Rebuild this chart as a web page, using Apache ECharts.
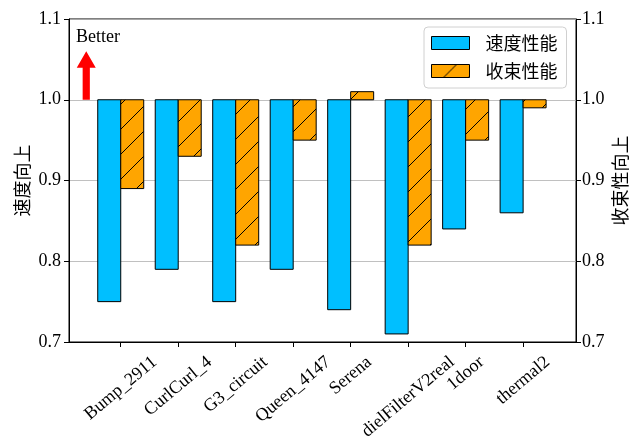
<!DOCTYPE html>
<html>
<head>
<meta charset="utf-8">
<script src="https://cdn.jsdelivr.net/npm/echarts@6/dist/echarts.min.js"></script>
<style>
  html, body { margin: 0; padding: 0; background: #fff; }
  #chart { width: 640px; height: 439px; }
</style>
</head>
<body>
<div id="chart"></div>
<script>
// Matrices and their relative performance (1.0 = baseline)
const categories = ['Bump_2911', 'CurlCurl_4', 'G3_circuit', 'Queen_4147', 'Serena', 'dielFilterV2real', '1door', 'thermal2'];
const speedPerf = [0.75, 0.79, 0.75, 0.79, 0.74, 0.71, 0.84, 0.86];
const convPerf = [0.89, 0.93, 0.82, 0.95, 1.01, 0.82, 0.95, 0.99];
const seriesNames = ['速度性能', '收束性能'];
const axisNames = ['速度向上', '收束性向上'];
const yTicks = [0.7, 0.8, 0.9, 1.0, 1.1];
const baseline = 1.0;
// "Better" hint: arrow x, arrow from/to, text x/y
const betterArrow = [-0.6, 1.0, 1.06];
const betterText = [-0.78, 1.077];

const SERIF = "'Liberation Serif', 'Times New Roman', 'DejaVu Serif', serif";
const CJK = "'Noto Sans CJK SC', 'Noto Sans CJK JP', sans-serif";
const BLUE = '#00BFFF';
const ORANGE = '#FFA500';
const BAR_W = 0.4;
const FS = 18;

// hatch tile ("/") for the second series
function makeHatch() {
  const s = 25;
  const c = document.createElement('canvas');
  c.width = s; c.height = s;
  const g = c.getContext('2d');
  g.fillStyle = ORANGE;
  g.fillRect(0, 0, s, s);
  g.strokeStyle = '#000';
  g.lineWidth = 1;
  for (const k of [-s, 0, s]) {
    g.beginPath();
    g.moveTo(k - 1, s + 1);
    g.lineTo(k + s + 1, -1);
    g.stroke();
  }
  return c;
}
const hatch = { image: makeHatch(), repeat: 'repeat' };

// rotated category labels: each label's bounding box sits top-centred under its tick
const ROT = 40 * Math.PI / 180;
const LABEL_PAD = 11;
const mctx = document.createElement('canvas').getContext('2d');
mctx.font = FS + 'px ' + SERIF;
const labelBoxH = categories.map(name => {
  const w = mctx.measureText(name).width;
  return w * Math.sin(ROT) + FS * Math.cos(ROT);
});

function barRenderer(offset, fill) {
  return function (params, api) {
    const x = api.value(0), v = api.value(1);
    const a = api.coord([x + offset, baseline]);
    const b = api.coord([x + offset + BAR_W, v]);
    return {
      type: 'rect',
      shape: { x: a[0], y: Math.min(a[1], b[1]), width: b[0] - a[0], height: Math.abs(b[1] - a[1]) },
      style: { fill: fill, stroke: '#000', lineWidth: 1 }
    };
  };
}

const tickIdx = categories.map((_, i) => i);
const chart = echarts.init(document.getElementById('chart'), null, { renderer: 'canvas' });
chart.setOption({
  animation: false,
  backgroundColor: '#fff',
  grid: { left: 69, right: 64, top: 19, bottom: 97, show: true, borderColor: '#000', borderWidth: 1, backgroundColor: 'transparent' },
  legend: {
    orient: 'vertical', left: 424, top: 27,
    padding: [7, 9, 8, 7],
    itemWidth: 38, itemHeight: 13, itemGap: 10,
    backgroundColor: 'rgba(255,255,255,0.8)', borderColor: '#d0d0d0', borderWidth: 1, borderRadius: 4,
    textStyle: { fontFamily: CJK, fontSize: FS, color: '#000', lineHeight: FS, padding: [0, 0, 0, 11] },
    icon: 'rect',
    data: [
      { name: seriesNames[0], itemStyle: { color: BLUE, borderColor: '#000', borderWidth: 1 } },
      { name: seriesNames[1], itemStyle: { color: hatch, borderColor: '#000', borderWidth: 1 } }
    ]
  },
  xAxis: {
    type: 'value', min: -0.9, max: 7.92,
    axisLine: { show: true, onZero: false, lineStyle: { color: '#000', width: 1 } },
    axisTick: { show: true, length: 5, customValues: tickIdx, lineStyle: { color: '#000' } },
    axisLabel: { show: false },
    splitLine: { show: false }
  },
  yAxis: [0, 1].map(k => ({
    type: 'value', min: yTicks[0], max: yTicks[yTicks.length - 1], interval: 0.1,
    position: k === 0 ? 'left' : 'right',
    name: axisNames[k], nameLocation: 'middle', nameRotate: 90, nameGap: k === 0 ? 38 : 35,
    nameMoveOverlap: false,
    nameTextStyle: { fontFamily: CJK, fontSize: FS, color: '#000' },
    axisLine: { show: true, onZero: false, lineStyle: { color: '#000', width: 1 } },
    axisTick: { show: true, length: 5, lineStyle: { color: '#000' } },
    axisLabel: { fontFamily: SERIF, fontSize: FS, color: '#000', margin: k === 0 ? 8 : 6, formatter: v => v.toFixed(1) },
    splitLine: { show: k === 0, lineStyle: { color: '#b0b0b0', width: 0.8 } }
  })),
  series: [
    {
      name: seriesNames[0], type: 'custom', yAxisIndex: 0,
      itemStyle: { color: BLUE },
      renderItem: barRenderer(-BAR_W, BLUE),
      data: speedPerf.map((v, i) => [i, v])
    },
    {
      name: seriesNames[1], type: 'custom', yAxisIndex: 1,
      itemStyle: { color: ORANGE },
      renderItem: barRenderer(0, hatch),
      data: convPerf.map((v, i) => [i, v])
    },
    {
      // category names under the ticks, rotated 40°
      type: 'custom', yAxisIndex: 0, silent: true, clip: false,
      renderItem: function (params, api) {
        const i = api.value(0);
        const p = api.coord([i, yTicks[0]]);
        const H = labelBoxH[i];
        return {
          type: 'text', x: p[0], y: p[1] + LABEL_PAD + H / 2, rotation: ROT,
          style: { text: categories[i], fontFamily: SERIF, fontSize: FS, fill: '#000', align: 'center', verticalAlign: 'middle' }
        };
      },
      data: tickIdx.map(i => [i])
    },
    {
      type: 'custom', yAxisIndex: 0, silent: true,
      renderItem: function (params, api) {
        const base = api.coord([api.value(0), api.value(1)]);
        const tip = api.coord([api.value(0), api.value(2)]);
        const sw = 3.6, hw = 9.5, hl = 16.5;
        const cx = base[0];
        const pts = [
          [cx - sw, base[1]], [cx - sw, tip[1] + hl], [cx - hw, tip[1] + hl], [cx, tip[1]],
          [cx + hw, tip[1] + hl], [cx + sw, tip[1] + hl], [cx + sw, base[1]]
        ];
        const t = api.coord(betterText);
        return {
          type: 'group',
          children: [
            { type: 'polygon', shape: { points: pts }, style: { fill: '#ff0000' } },
            { type: 'text', x: t[0], y: t[1], style: { text: 'Better', fontFamily: SERIF, fontSize: FS, fill: '#000', align: 'left', verticalAlign: 'middle' } }
          ]
        };
      },
      data: [betterArrow]
    }
  ]
});
</script>
</body>
</html>
